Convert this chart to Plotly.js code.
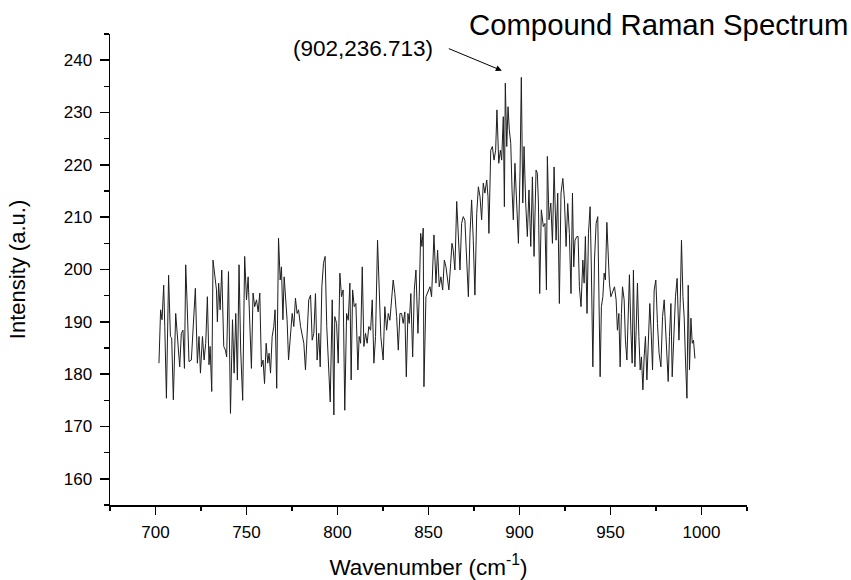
<!DOCTYPE html>
<html>
<head>
<meta charset="utf-8">
<script src="https://cdn.plot.ly/plotly-3.0.1.min.js"></script>
<style>html,body{margin:0;padding:0;background:#fff;}#chart{width:851px;height:580px;}</style>
</head>
<body>
<div id="chart"></div>
<script>
// Wavenumber (cm^-1)
const wavenumber = [
701.9,702.8,703.6,704.5,705.1,706.0,707.2,708.2,708.9,709.8,711.1,712.0,713.3,714.2,715.1,715.9,716.6,717.3,718.4,719.7,
720.8,721.9,723.0,723.9,724.7,725.8,726.7,727.6,728.5,729.4,730.0,730.9,731.6,732.7,733.5,734.0,734.7,735.5,736.4,737.5,
738.4,739.1,740.1,741.2,742.3,743.2,744.1,745.0,745.9,746.8,747.9,749.0,750.0,750.9,751.8,752.7,753.6,754.5,755.5,756.4,
757.3,758.2,759.1,759.9,760.8,761.7,762.4,763.2,764.1,765.0,765.7,766.6,767.6,768.5,769.2,770.0,770.7,771.4,772.3,773.1,
774.2,775.1,776.0,776.9,777.8,778.6,779.7,780.6,781.5,782.4,783.3,784.2,785.2,786.1,787.0,787.9,788.8,789.7,790.5,791.4,
792.3,793.2,794.1,795.1,796.0,797.1,798.0,798.5,799.5,800.4,801.3,802.2,803.1,804.0,805.0,805.9,806.8,807.5,808.3,809.2,
810.1,811.2,811.9,812.7,813.6,814.5,815.4,816.3,817.2,818.2,819.1,820.0,820.9,822.0,822.9,823.8,825.1,826.0,827.0,827.9,
828.8,829.7,830.6,831.5,832.5,833.4,834.3,835.2,836.1,837.0,837.8,838.7,839.4,840.3,841.3,842.2,843.1,844.2,844.9,845.7,
846.4,847.1,847.5,848.6,849.9,850.8,851.7,853.0,854.1,855.0,855.9,856.8,857.8,858.7,859.6,860.3,861.2,862.2,862.9,863.6,
864.5,865.5,866.4,867.3,868.2,869.1,870.0,871.0,871.9,872.8,873.7,874.6,875.5,876.5,877.4,878.3,879.2,880.1,881.0,882.0,
882.7,883.2,884.2,885.1,886.0,886.9,887.6,888.6,889.5,890.2,891.1,891.7,892.2,893.0,893.7,894.4,895.2,895.9,896.6,897.5,
898.5,899.4,900.3,901.0,901.8,902.5,903.4,904.3,905.2,906.2,907.1,908.0,909.1,909.8,910.4,911.1,912.0,913.1,914.0,914.8,
915.3,916.2,917.2,918.1,919.0,920.1,921.0,921.9,922.8,923.8,924.7,925.6,926.5,927.4,928.3,929.1,929.8,930.5,931.5,932.2,
932.9,933.8,934.8,935.5,936.2,937.1,937.9,938.8,939.5,940.3,941.2,942.1,943.0,943.7,944.3,945.0,945.8,946.5,947.2,948.0,
948.7,949.4,950.2,951.3,952.2,953.1,953.8,954.6,955.3,956.0,956.6,957.5,958.2,959.0,959.7,960.4,961.2,961.9,962.6,963.4,
964.1,964.8,965.6,966.3,967.0,967.8,968.5,969.2,970.0,970.9,971.6,972.3,973.1,974.0,974.9,975.8,976.7,977.7,978.6,979.5,
980.2,981.0,981.7,982.4,983.2,983.9,984.8,985.7,986.6,987.6,988.3,989.0,989.8,990.5,991.2,992.0,992.7,993.4,994.2,994.9,
995.6,996.4
];
// Intensity (a.u.)
const intensity = [
182.1,192.3,190.4,197.0,189.1,175.4,198.9,187.2,186.9,175.1,191.6,186.5,181.4,187.8,188.4,181.1,200.9,194.2,182.4,182.7,
189.7,196.4,182.1,187.2,180.2,187.2,182.7,185.9,194.8,181.8,185.3,176.7,201.8,198.6,196.1,190.0,197.4,192.3,199.9,185.3,
184.6,183.3,199.6,172.5,190.4,180.2,191.6,178.9,200.9,184.6,175.0,202.5,194.2,198.6,190.3,181.1,195.5,192.9,194.2,191.9,
195.5,181.4,182.7,178.2,185.9,182.1,184.0,180.2,187.2,189.1,192.3,177.3,206.0,198.0,200.5,190.4,198.6,194.2,190.4,182.7,
187.8,191.6,189.1,194.5,191.6,192.3,189.1,187.2,185.9,180.8,187.8,194.2,195.1,186.5,187.8,195.4,182.7,187.8,181.4,196.7,
201.2,202.5,189.1,180.8,174.7,194.2,172.2,191.0,189.7,182.1,199.3,194.8,196.1,173.1,191.6,190.3,197.4,178.9,196.1,192.9,
193.5,180.8,187.2,185.9,200.5,185.3,187.8,185.9,189.1,188.4,194.2,182.1,187.2,205.6,194.8,187.2,182.7,192.9,188.4,191.6,
190.3,193.5,198.0,195.4,191.0,184.6,191.6,191.6,189.7,191.9,179.5,191.6,189.7,195.4,183.3,196.1,199.9,187.8,194.8,206.9,
204.4,207.9,177.6,194.8,196.1,196.7,194.8,206.6,197.4,203.7,196.7,198.6,196.1,201.8,200.5,198.6,196.1,201.2,205.0,203.7,
199.9,213.0,207.5,199.9,208.8,210.1,209.4,202.4,194.8,206.9,213.3,205.6,195.1,210.7,215.8,213.9,209.5,216.5,214.6,217.1,
213.9,206.9,222.8,223.5,220.9,222.8,230.5,220.3,222.8,220.9,229.2,212.0,235.6,223.5,231.1,226.7,224.1,215.2,209.5,220.3,
210.1,205.0,219.0,236.713,212.7,223.5,212.7,206.3,215.2,204.4,217.7,202.5,219.0,218.4,212.7,195.4,211.4,208.2,208.8,196.1,
221.6,209.5,212.7,205.0,219.6,205.6,214.6,193.5,214.6,217.4,213.3,204.4,212.6,206.9,195.4,214.6,200.5,205.6,206.3,206.3,
196.7,192.9,201.8,197.4,206.3,191.6,206.9,212.0,199.9,181.4,201.8,208.8,210.1,192.9,179.5,192.9,194.8,199.3,198.0,209.0,
201.2,197.4,194.8,196.1,196.7,194.2,188.4,191.6,181.4,191.6,196.7,194.2,186.5,182.7,191.0,199.0,188.4,182.1,199.9,181.4,
188.4,197.4,187.2,180.8,183.3,177.0,183.3,187.2,178.9,189.1,193.5,188.4,180.8,196.1,198.0,189.7,184.0,181.4,191.0,194.2,
188.4,184.6,178.6,187.2,193.5,179.5,188.4,194.8,198.3,186.5,193.5,205.6,194.8,190.7,182.7,175.4,197.0,180.8,190.7,185.9,
186.5,183.0
];

const chartTitle = 'Compound Raman Spectrum';
const xTitle = 'Wavenumber (cm<sup>-1</sup>)';
const yTitle = 'Intensity (a.u.)';
const peakLabel = '(902,236.713)';
const peakArrowTip = [890.3, 238.0];

const FONT = 'Liberation Sans, Arial, sans-serif';

const trace = {
  x: wavenumber,
  y: intensity,
  type: 'scatter',
  mode: 'lines',
  line: {color: '#1e1e1e', width: 1},
  hoverinfo: 'x+y'
};

const layout = {
  width: 851,
  height: 580,
  paper_bgcolor: '#ffffff',
  plot_bgcolor: '#ffffff',
  showlegend: false,
  margin: {l: 110, r: 104, t: 34, b: 75, pad: 0},
  font: {family: FONT, color: '#000', size: 17},
  title: {
    text: chartTitle,
    font: {family: FONT, size: 29.3, color: '#000'},
    xref: 'container', x: 0.997, xanchor: 'right',
    yref: 'container', y: 1 - 25/580, yanchor: 'middle'
  },
  xaxis: {
    range: [675, 1025],
    tick0: 700, dtick: 50, tickmode: 'linear',
    ticks: 'outside', ticklen: 8, tickwidth: 1.5, tickcolor: '#000',
    minor: {dtick: 25, ticks: 'outside', ticklen: 4, tickwidth: 1.5, tickcolor: '#000', showgrid: false},
    showline: true, linecolor: '#000', linewidth: 1.5, mirror: false,
    showgrid: false, zeroline: false,
    ticklabelstandoff: 3,
    tickfont: {family: FONT, size: 17, color: '#000'},
    title: {text: xTitle, font: {family: FONT, size: 22.5, color: '#000'}, standoff: 18}
  },
  yaxis: {
    range: [155, 245],
    tick0: 160, dtick: 10, tickmode: 'linear',
    ticks: 'outside', ticklen: 9, tickwidth: 1.5, tickcolor: '#000',
    minor: {dtick: 5, ticks: 'outside', ticklen: 5, tickwidth: 1.5, tickcolor: '#000', showgrid: false},
    showline: true, linecolor: '#000', linewidth: 1.5, mirror: false,
    showgrid: false, zeroline: false,
    ticklabelstandoff: 4,
    tickfont: {family: FONT, size: 17, color: '#000'},
    title: {text: yTitle, font: {family: FONT, size: 22, color: '#000'}, standoff: 32}
  },
  annotations: [
    {
      x: peakArrowTip[0], y: peakArrowTip[1], xref: 'x', yref: 'y',
      text: peakLabel, showarrow: true,
      ax: -53, ay: -22,
      xanchor: 'right', yanchor: 'middle',
      borderpad: 15,
      font: {family: FONT, size: 22.5, color: '#000'},
      arrowhead: 2, arrowsize: 1.2, arrowwidth: 1, arrowcolor: '#000', standoff: 0
    }
  ]
};

Plotly.newPlot('chart', [trace], layout, {displayModeBar: false, staticPlot: true});
</script>
</body>
</html>
